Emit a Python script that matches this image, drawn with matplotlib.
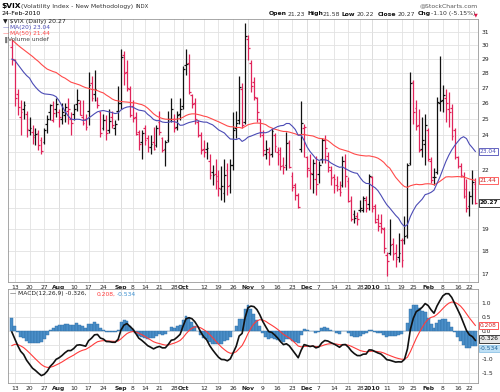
import numpy as np
import pandas as pd
import matplotlib
matplotlib.use("Agg")
import matplotlib.pyplot as plt
from matplotlib import transforms

# closes before the visible window (Apr 29 - Jul 9, 2009), only used to warm up MA / MACD
prior_close = [35.84, 36.50,
               35.30, 34.53, 34.14, 32.05, 33.41, 32.05, 33.57, 31.80, 33.55, 33.12,
               33.12, 30.24, 29.60, 29.03, 32.62, 32.63, 30.59, 32.36, 31.67, 28.92,
               29.41, 28.47, 29.54, 28.62, 29.62, 29.77, 28.34, 28.53, 28.46, 28.15,
               31.35, 30.81, 31.54, 29.00, 27.99, 30.86, 29.17, 27.69, 26.36, 25.93,
               25.35, 26.35, 26.22, 27.95, 30.30, 32.15, 32.60, 31.08]

# visible daily bars, Jul 10 2009 - Feb 24 2010
opens = [29.90,
         28.90, 26.60, 25.10, 25.60, 25.30, 24.30, 24.20, 24.00, 24.10, 23.70,
         23.60, 24.70, 25.40, 24.90, 25.60, 25.40, 25.00, 25.20, 25.50, 25.00,
         25.30, 25.90, 26.00, 25.10, 25.00, 25.50, 27.30, 26.60, 26.20, 25.40,
         24.40, 24.90, 24.30, 25.10, 24.40, 25.50, 26.00, 29.30, 28.10, 26.90,
         25.80, 25.10, 24.20, 23.60, 24.40, 23.80, 23.30, 23.60, 23.40,
         24.80, 23.80, 23.20, 23.70, 25.00, 25.00, 24.50, 25.30, 25.80, 28.60,
         28.70, 26.50, 26.00, 24.80, 24.00, 23.20, 23.20, 22.50, 21.90, 21.80,
         21.70, 21.00, 20.80, 22.00, 21.20, 22.30, 24.40, 24.90, 26.90, 24.80,
         30.50, 28.70, 27.40, 26.30, 25.00, 24.00, 22.90, 23.00, 22.90, 24.00,
         23.00, 23.10, 22.30, 22.30, 23.60, 21.70, 21.20, 20.70, 23.20,
         24.40, 22.70, 22.00, 21.80, 21.50, 21.80, 22.60, 23.70, 22.80, 22.00,
         21.60, 21.20, 21.00, 21.20, 22.50, 21.40, 20.40, 19.70, 19.60,
         19.90, 19.90, 20.40, 20.20, 21.60, 20.10, 19.50, 19.30, 19.00,
         17.80, 17.90, 18.30, 17.90, 17.70, 18.50, 18.50, 18.70, 22.40,
         27.40, 25.70, 24.60, 23.20, 23.50, 24.30, 22.50, 21.60, 21.90, 26.00,
         26.20, 26.30, 25.60, 25.70, 24.30, 22.70, 22.20, 21.70, 21.00,
         20.10, 20.60, 21.23]
highs = [30.40,
         29.00, 26.90, 26.20, 26.10, 25.50, 25.10, 24.60, 24.40, 24.30, 23.90,
         24.40, 25.20, 25.90, 26.10, 26.30, 25.60, 26.00, 26.00, 26.30, 25.40,
         25.90, 26.90, 26.20, 26.20, 25.30, 28.10, 27.80, 28.20, 26.40, 25.50,
         25.30, 25.20, 25.60, 25.50, 24.90, 27.10, 29.70, 29.60, 28.90, 27.10,
         26.20, 25.40, 24.30, 24.30, 24.60, 24.00, 24.00, 24.50, 24.60,
         25.50, 23.90, 23.70, 25.50, 26.30, 25.30, 25.50, 26.30, 28.50, 29.70,
         29.40, 26.60, 26.30, 24.90, 24.20, 23.70, 23.60, 22.90, 22.30, 22.60,
         22.00, 22.20, 22.60, 22.40, 22.60, 25.40, 25.50, 27.80, 27.30, 31.70,
         30.80, 28.90, 27.70, 26.40, 25.00, 24.30, 23.70, 23.30, 24.40, 24.10,
         23.30, 23.30, 22.70, 24.20, 23.70, 21.90, 21.30, 20.80, 26.10,
         24.70, 22.80, 22.90, 22.60, 22.80, 22.50, 23.80, 24.00, 23.00, 22.20,
         21.80, 21.70, 21.40, 22.80, 22.90, 21.60, 20.60, 19.90, 19.80,
         20.40, 20.60, 20.60, 21.80, 21.70, 20.20, 19.70, 19.70, 19.10,
         17.95, 19.50, 18.60, 18.30, 18.80, 18.60, 19.60, 22.40, 28.10,
         27.50, 26.20, 25.60, 25.10, 25.30, 24.40, 22.70, 22.10, 26.40, 29.20,
         27.20, 26.90, 26.70, 25.90, 24.40, 22.80, 22.40, 21.90, 21.50,
         20.90, 22.00, 21.58]
lows = [28.60,
        25.80, 25.20, 24.00, 25.00, 23.90, 24.00, 23.50, 23.40, 23.10, 22.90,
        23.50, 24.10, 24.90, 24.80, 25.10, 24.50, 24.70, 24.80, 24.70, 24.00,
        24.90, 25.50, 25.20, 24.60, 24.30, 24.60, 26.10, 26.10, 25.70, 23.90,
        24.30, 23.70, 24.10, 24.40, 24.00, 24.90, 25.60, 27.20, 26.80, 25.10,
        24.80, 24.00, 23.10, 22.60, 23.40, 23.00, 22.90, 23.10, 23.30,
        24.00, 23.00, 22.20, 23.60, 24.80, 24.20, 24.30, 24.90, 25.60, 27.90,
        26.60, 25.70, 24.70, 23.90, 22.90, 22.70, 22.60, 21.50, 21.20, 21.00,
        20.60, 20.40, 20.30, 20.70, 20.80, 22.00, 23.80, 24.70, 24.40, 24.70,
        28.90, 26.70, 26.20, 24.80, 23.90, 22.80, 22.60, 22.30, 22.70, 23.00,
        22.30, 22.00, 21.80, 22.00, 22.10, 20.90, 20.40, 20.00, 23.00,
        22.70, 21.60, 21.00, 20.80, 20.70, 21.30, 22.40, 22.40, 21.90, 21.20,
        20.80, 20.90, 20.60, 21.10, 21.10, 20.30, 19.40, 19.30, 19.20,
        19.80, 19.80, 19.80, 19.90, 19.80, 19.30, 18.90, 18.80, 17.90,
        16.90, 17.80, 17.60, 17.30, 17.50, 17.30, 18.30, 18.60, 22.30,
        24.70, 24.30, 23.00, 22.70, 22.30, 22.50, 21.30, 21.20, 21.80, 25.50,
        25.40, 24.80, 24.50, 23.70, 22.60, 22.10, 21.60, 20.50, 19.80,
        19.60, 20.20, 20.22]
closes = [29.02,
          26.31, 25.72, 25.42, 25.89, 24.34, 24.40, 23.87, 24.05, 23.43, 23.09,
          24.28, 25.01, 25.87, 25.36, 25.92, 25.09, 25.40, 25.73, 25.61, 24.76,
          25.62, 26.21, 25.21, 24.71, 24.50, 27.19, 26.31, 26.90, 25.89, 24.10,
          24.90, 24.10, 24.85, 24.60, 24.70, 26.01, 29.15, 28.00, 27.00, 25.26,
          25.03, 24.07, 23.50, 24.15, 23.70, 23.30, 23.50, 23.20, 24.40,
          24.20, 23.12, 23.60, 25.00, 25.61, 24.40, 25.20, 25.61, 28.27, 28.68,
          26.69, 25.91, 24.95, 24.00, 23.12, 23.00, 23.25, 21.71, 21.72, 21.43,
          21.05, 21.16, 21.75, 21.12, 22.27, 24.31, 24.71, 27.06, 24.61, 30.69,
          29.78, 27.10, 26.40, 25.43, 24.19, 23.15, 23.19, 22.84, 24.24, 23.36,
          22.89, 22.21, 22.15, 23.51, 22.19, 21.10, 20.69, 20.05, 24.74,
          24.51, 22.10, 21.86, 22.41, 21.25, 22.29, 23.69, 23.24, 22.17, 21.59,
          21.49, 21.17, 20.83, 22.52, 21.68, 20.36, 19.48, 19.54, 19.47,
          20.01, 20.54, 20.01, 21.68, 20.04, 19.35, 19.16, 19.06, 18.13,
          17.55, 18.25, 17.85, 17.63, 17.91, 17.58, 18.68, 22.27, 27.31,
          25.41, 24.55, 23.14, 23.73, 24.62, 22.59, 21.48, 21.60, 26.08, 26.11,
          26.51, 26.00, 25.40, 23.96, 22.73, 22.25, 21.72, 20.63, 20.02,
          20.64, 21.37, 20.27]

holidays = ["2009-09-07", "2009-11-26", "2009-12-25", "2010-01-01", "2010-01-18", "2010-02-15"]
dates = pd.bdate_range("2009-07-10", "2010-02-24").drop(pd.to_datetime(holidays))

tick_dates = ["2009-07-13", "2009-07-20", "2009-07-27", "2009-08-03", "2009-08-10", "2009-08-17",
              "2009-08-24", "2009-09-01", "2009-09-08", "2009-09-14", "2009-09-21", "2009-09-28",
              "2009-10-01", "2009-10-12", "2009-10-19", "2009-10-26", "2009-11-02", "2009-11-09",
              "2009-11-16", "2009-11-23", "2009-12-01", "2009-12-07", "2009-12-14", "2009-12-21",
              "2009-12-28", "2010-01-04", "2010-01-11", "2010-01-19", "2010-01-25", "2010-02-01",
              "2010-02-08", "2010-02-16", "2010-02-22"]
tick_labels = ["13", "20", "27", "Aug", "10", "17", "24", "Sep", "8", "14", "21", "28", "Oct",
               "12", "19", "26", "Nov", "9", "16", "23", "Dec", "7", "14", "21", "28", "2010",
               "11", "19", "25", "Feb", "8", "16", "22"]
month_labels = ["Aug", "Sep", "Oct", "Nov", "Dec", "2010", "Feb"]

# right-axis labels; the ones hidden behind the value boxes are left blank
price_ticks = list(range(17, 32))
price_labels = ["17", "18", "19", "", "", "22", "", "24", "25", "26", "27", "28", "29", "30", "31"]
macd_ticks = [-1.5, -1.0, -0.5, 0.0, 0.5, 1.0]
macd_labels = ["-1.5", "-1.0", "", "0.0", "0.5", "1.0"]

UP = "#111111"
DOWN = "#e0245a"
BLUE_MA = "#4b4bb5"
RED_MA = "#ff4a4a"
HIST = "#4a8ec8"
GRID = "#e2e2e2"

# ---- indicators from the closes
all_close = pd.Series(prior_close + closes)
n_prior = len(prior_close)
ma20 = all_close.rolling(20).mean().values[n_prior:]
ma50 = all_close.rolling(50).mean().values[n_prior:]
ema12 = all_close.ewm(span=12, adjust=False).mean()
ema26 = all_close.ewm(span=26, adjust=False).mean()
macd = ema12 - ema26
signal = macd.ewm(span=9, adjust=False).mean()
hist = (macd - signal).values[n_prior:]
macd = macd.values[n_prior:]
signal = signal.values[n_prior:]

x = np.arange(len(dates))
prev = np.array([prior_close[-1]] + closes[:-1])
colors = [UP if c >= p else DOWN for c, p in zip(closes, prev)]

W, H = 500, 392
fig = plt.figure(figsize=(W / 100, H / 100), dpi=100)
fig.patch.set_facecolor("white")


def ftext(px, py, s, **kw):
    kw.setdefault("va", "center")
    kw.setdefault("fontsize", 4.5)
    return fig.text(px / W, 1 - py / H, s, **kw)


ax = fig.add_axes([8 / W, 1 - 282 / H, 470 / W, 263 / H])
ax2 = fig.add_axes([8 / W, 1 - 383 / H, 470 / W, 94 / H])

tick_pos = [dates.get_loc(pd.Timestamp(d)) for d in tick_dates]

for a in (ax, ax2):
    a.set_xlim(-1.3, len(dates) - 0.1)
    a.set_xticks(tick_pos)
    a.set_xticklabels(tick_labels)
    for lbl in a.get_xticklabels():
        if lbl.get_text() in month_labels:
            lbl.set_fontweight("bold")
    a.tick_params(axis="x", labelsize=4.3, length=0, pad=2, colors="#222222")
    a.tick_params(axis="y", labelsize=4.3, length=0, pad=2.5, colors="#222222")
    a.yaxis.tick_right()
    a.grid(True, color=GRID, linewidth=0.6)
    a.set_axisbelow(True)
    for sp in a.spines.values():
        sp.set_color("#999999")
        sp.set_linewidth(0.6)
    for p, lab in zip(tick_pos, tick_labels):
        if lab in month_labels:
            a.axvline(p, color="#c4c4c4", linewidth=0.7, zorder=0)

# ---- price panel
ax.set_yscale("log")
ax.set_ylim(16.65, 32.04)
ax.set_yticks(price_ticks)
ax.set_yticklabels(price_labels)
ax.yaxis.set_minor_locator(matplotlib.ticker.NullLocator())

ax.vlines(x, lows, highs, colors=colors, linewidth=0.9)
ax.hlines(opens, x - 0.6, x, colors=colors, linewidth=0.9)
ax.hlines(closes, x, x + 0.6, colors=colors, linewidth=0.9)
ax.plot(x, ma50, color=RED_MA, linewidth=0.8)
ax.plot(x, ma20, color=BLUE_MA, linewidth=0.8)

# ---- MACD panel
ax2.set_ylim(-1.85, 1.51)
ax2.set_yticks(macd_ticks)
ax2.set_yticklabels(macd_labels)
ax2.bar(x, hist, width=1.0, color=HIST, edgecolor="#2c6ea6", linewidth=0.3)
ax2.plot(x, signal, color="#ff3b3b", linewidth=0.8)
ax2.plot(x, macd, color="#111111", linewidth=1.2)


# ---- right-hand value boxes
def vbox(a, val, text, fc, ec, tc, weight="normal", shift=0.0):
    fig.canvas.draw()
    py = a.transData.transform((0, val))[1] - shift
    tr = transforms.blended_transform_factory(a.transAxes, transforms.IdentityTransform())
    a.text(1.004, py, text, transform=tr, fontsize=4.2, va="center", ha="left",
           color=tc, fontweight=weight, clip_on=False,
           bbox=dict(boxstyle="square,pad=0.2", fc=fc, ec=ec, lw=0.6))


vbox(ax, ma20[-1], "%.2f" % ma20[-1], "white", BLUE_MA, BLUE_MA)
vbox(ax, ma50[-1], "%.2f" % ma50[-1], "white", RED_MA, "#cc2222")
vbox(ax, closes[-1], "%.2f" % closes[-1], "white", "#222222", "#111111", "bold")
vbox(ax2, signal[-1], "%.3f" % signal[-1], "white", "#ff3b3b", "#cc2222")
vbox(ax2, macd[-1], "%.3f" % macd[-1], "#e8e8e8", "#222222", "#111111", shift=-1.5)
vbox(ax2, hist[-1], "%.3f" % hist[-1], "#bfe0f5", "#8fc3e6", "#1f5f94", shift=2.5)

# ---- header texts
ftext(1, 6, "$VIX", fontsize=5.4, fontweight="bold")
ftext(21, 6.3, "(Volatility Index - New Methodology)", fontsize=4.4, color="#333333")
ftext(135, 6.3, "INDX", fontsize=3.9, color="#333333")
ftext(1, 13.5, "24-Feb-2010", fontsize=4.5)
ftext(478, 5.5, "@StockCharts.com", fontsize=4.4, color="#555555", ha="right")

chg = closes[-1] - closes[-2]
pieces = [(269, "Open", True, "#111111"), (288, "%.2f" % opens[-1], False, "#333333"),
          (307, "High", True, "#111111"), (322.5, "%.2f" % highs[-1], False, "#333333"),
          (342, "Low", True, "#111111"), (356.5, "%.2f" % lows[-1], False, "#333333"),
          (377.5, "Close", True, "#111111"), (398, "%.2f" % closes[-1], False, "#333333"),
          (417.5, "Chg", True, "#111111"),
          (431, "%.2f (%.2f%%)" % (chg, chg / closes[-2] * 100), False, "#333333")]
for px, s, bold, c in pieces:
    ftext(px, 14, s, fontsize=4.4, fontweight="bold" if bold else "normal", color=c)
ftext(474, 14.5, "\u25bc", fontsize=3.5, color="#dd1144")

# ---- in-panel legends
ftext(3, 22, "\u25bc $VIX (Daily) %.2f" % closes[-1], fontsize=4.4, color="#222222")
ftext(3, 27.8, "\u2014", fontsize=4.4, color=BLUE_MA)
ftext(10, 27.8, "MA(20) %.2f" % ma20[-1], fontsize=4.2, color=BLUE_MA)
ftext(3, 33.8, "\u2014", fontsize=4.4, color=RED_MA)
ftext(10, 33.8, "MA(50) %.2f" % ma50[-1], fontsize=4.2, color=RED_MA)
ftext(3, 39.5, "\u2590", fontsize=4.0, color="#777777")
ftext(8, 39.5, "Volume undef", fontsize=4.2, color="#444444")

ftext(10, 294, "\u2014", fontsize=4.4, color="#111111")
ftext(18, 294, "MACD(12,26,9) %.3f," % macd[-1], fontsize=4.3, color="#222222")
ftext(97, 294, "%.3f," % signal[-1], fontsize=4.3, color="#ff3b3b")
ftext(117, 294, "%.3f" % hist[-1], fontsize=4.3, color="#3a8fd0")

fig.savefig("out.png", dpi=100, facecolor="white")
